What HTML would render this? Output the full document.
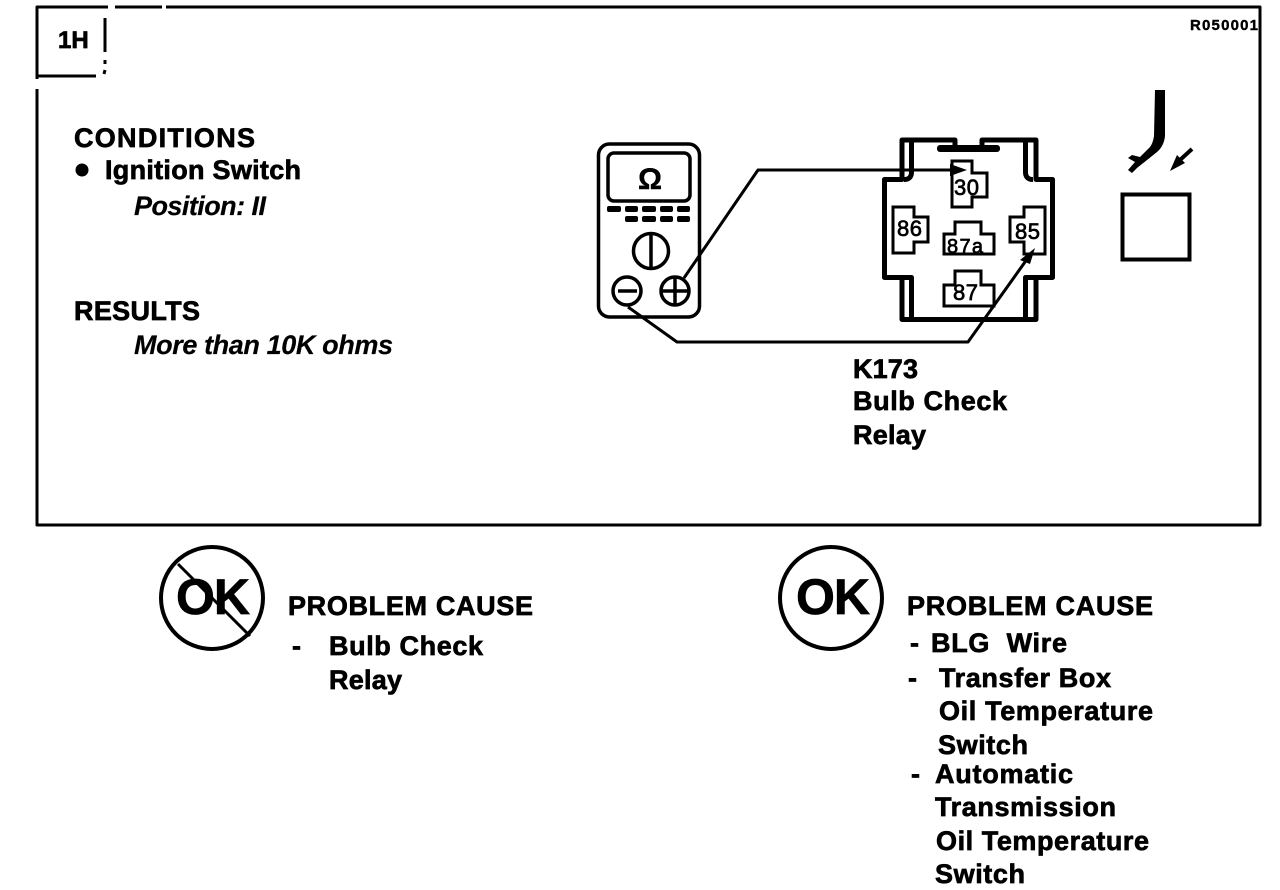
<!DOCTYPE html>
<html><head><meta charset="utf-8"><style>
html,body{margin:0;padding:0;background:#fff;width:1280px;height:890px;overflow:hidden}
svg{display:block}
text{font-family:"Liberation Sans",sans-serif;font-weight:bold;fill:#000;stroke:#000;stroke-width:.7;font-size:27px}
.i{font-style:italic;stroke-width:.2}
.p{fill:#fff;stroke:#000;stroke-width:3}
.n{font-size:22px;font-weight:normal;stroke-width:.7}
.l{fill:none;stroke:#000;stroke-width:3;stroke-linejoin:round}
.m{fill:none;stroke:#000;stroke-width:3.500;stroke-linejoin:round}
.r{fill:none;stroke:#000;stroke-width:5;stroke-linejoin:round}
</style></head><body>
<svg width="1280" height="890" viewBox="0 0 1280 890" xmlns="http://www.w3.org/2000/svg">
<!-- frame -->
<path class="l" d="M37 79V7H108M115 7H162M166 7H1260V525H37V89"/>
<path class="l" d="M38 76H96M105 52V18M105 60V64M104 74L105 70"/>
<text x="58" y="48" style="font-size:24px">1H</text>
<text x="1190" y="30" textLength="68" style="font-size:15px;stroke-width:.4">R050001</text>
<!-- left text -->
<text x="74" y="147" textLength="181">CONDITIONS</text>
<circle cx="82" cy="170" r="6.500"/>
<text x="105" y="179" textLength="196">Ignition Switch</text>
<text class="i" x="134" y="215" textLength="132">Position: II</text>
<text x="74" y="320" textLength="126">RESULTS</text>
<text class="i" x="134" y="354" textLength="259">More than 10K ohms</text>
<!-- meter -->
<rect x="598.500" y="144" width="101" height="173" rx="11" class="m"/>
<rect x="608" y="153" width="82" height="48" rx="6" class="m"/>
<text x="650" y="189" text-anchor="middle" style="font-size:30px;stroke-width:.4">Ω</text>
<g fill="#000">
<rect x="607" y="206" width="14" height="6" rx="2"/><rect x="625" y="206" width="13" height="6" rx="2"/><rect x="642" y="206" width="14" height="6" rx="2"/><rect x="660" y="206" width="13" height="6" rx="2"/><rect x="677" y="206" width="13" height="6" rx="2"/>
<rect x="625" y="216" width="13" height="6" rx="2"/><rect x="642" y="216" width="14" height="6" rx="2"/><rect x="660" y="216" width="13" height="6" rx="2"/><rect x="677" y="216" width="13" height="6" rx="2"/>
</g>
<circle cx="651" cy="251" r="17.500" class="m"/><path class="m" d="M651 234V268"/>
<circle cx="627" cy="291" r="14" class="m"/><path class="m" d="M618 291H637"/>
<circle cx="675" cy="291" r="14" class="m"/><path class="m" d="M661 291H689M675 277V305"/>
<!-- relay -->
<path class="r" d="M955 148V140H902V179.500H884.500V277.500H902V319.500H1036V277.500H1052.500V179.500H1036V140H982V148"/>
<rect x="937" y="145" width="63" height="7" rx="3"/>
<path class="r" d="M911.500 140V172Q911.500 179.500 904 179.500M1025.500 140V172Q1025.500 179.500 1033 179.500M902 277.500H911.500V319M1036 277.500H1025.500V319"/>
<polygon class="p" points="952,161 972,161 972,173 987,173 987,197 972,197 972,207 952,207"/>
<polygon class="p" points="893,207 914,207 914,217 928,217 928,242 914,242 914,253 893,253"/>
<polygon class="p" points="955,222 981,222 981,234 994,234 994,254 944,254 944,234 955,234"/>
<polygon class="p" points="1024,207 1045,207 1045,254 1024,254 1024,242 1010,242 1010,217 1024,217"/>
<polygon class="p" points="955,271 981,271 981,285 994,285 994,306 944,306 944,285 955,285"/>
<text class="n" x="954" y="195" textLength="25">30</text>
<text class="n" x="897" y="236" textLength="25">86</text>
<text class="n" x="947" y="253" textLength="36" style="font-size:20px">87a</text>
<text class="n" x="1015" y="239" textLength="25">85</text>
<text class="n" x="953" y="300" textLength="25">87</text>
<!-- wires -->
<path class="l" d="M684 278L758 170H956"/>
<polygon points="967,170 950,164 950,176"/>
<path class="l" d="M628 307L677 342H968L1030 255"/>
<polygon points="1035,248 1020,260 1030,264"/>
<!-- probe -->
<path d="M1155 90H1165V136Q1164 146 1157 152L1137 168L1132 173L1128 170L1135 162L1128 158L1132 155L1140 157L1150 147Q1153 143 1154 136Z"/>
<path d="M1192 149L1180 160" stroke="#000" stroke-width="4" fill="none"/>
<polygon points="1170,171 1177,155 1185,163"/>
<rect x="1122.500" y="194.500" width="67" height="65" fill="none" stroke="#000" stroke-width="4"/>
<!-- K173 -->
<text x="853" y="378" textLength="65">K173</text>
<text x="853" y="410" textLength="154">Bulb Check</text>
<text x="853" y="444" textLength="73">Relay</text>
<!-- left OK -->
<circle cx="212" cy="598" r="51" class="l" style="stroke-width:4"/>
<text x="176" y="614" textLength="74" style="font-size:50px">OK</text>
<path class="l" d="M178 564L250 636"/>
<text x="288" y="615" textLength="245">PROBLEM CAUSE</text>
<text x="292" y="655">-</text>
<text x="329" y="655" textLength="154">Bulb Check</text>
<text x="329" y="689" textLength="73">Relay</text>
<!-- right OK -->
<circle cx="831" cy="598" r="51" class="l" style="stroke-width:4"/>
<text x="796" y="614" textLength="74" style="font-size:50px">OK</text>
<text x="907" y="615" textLength="246">PROBLEM CAUSE</text>
<text x="910" y="652">-</text>
<text x="931" y="652" textLength="136" xml:space="preserve">BLG  Wire</text>
<text x="908" y="687">-</text>
<text x="939" y="687" textLength="172">Transfer Box</text>
<text x="939" y="720" textLength="214">Oil Temperature</text>
<text x="938" y="754" textLength="90">Switch</text>
<text x="911" y="783">-</text>
<text x="935" y="783" textLength="138">Automatic</text>
<text x="935" y="816" textLength="181">Transmission</text>
<text x="936" y="850" textLength="213">Oil Temperature</text>
<text x="935" y="883" textLength="90">Switch</text>
</svg>
</body></html>
